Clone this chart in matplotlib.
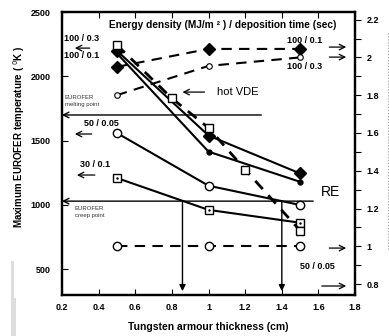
import matplotlib
matplotlib.use('Agg')
import matplotlib.pyplot as plt
from matplotlib.lines import Line2D
from matplotlib.patches import Rectangle
from matplotlib.ticker import FuncFormatter, MultipleLocator

plt.rcParams['font.family'] = ['Liberation Sans', 'DejaVu Sans']

# thickness of tungsten armour (cm)
thick = [0.5, 1.0, 1.5]
thick_vde = [0.5, 0.8, 1.0, 1.2, 1.5]

# maximum EUROFER temperature (K), left axis
t_100_01_diam = [2200, 1540, 1245]
t_100_03_dot = [2180, 1415, 1180]
t_50_005 = [1560, 1150, 1000]
t_30_01 = [1210, 962, 862]
t_hot_vde = [2245, 1830, 1600, 1275, 800]

# right axis series (dashed)
r_100_01 = [1.95, 2.045, 2.045]
r_100_03 = [1.80, 1.955, 2.0]
r_50_005 = [1.0, 1.0, 1.0]

melting_point = 1700
creep_point = 1030

fig = plt.figure(figsize=(3.89, 3.36), dpi=100)
ax = fig.add_axes([0.159, 0.122, 0.754, 0.842])
ax2 = ax.twinx()

lw = 1.5
ax.plot(thick, t_100_01_diam, '-', color='black', lw=lw, marker='D', ms=6, mfc='black', zorder=3)
ax.plot(thick, t_100_03_dot, '-', color='black', lw=lw, marker='o', ms=3.5, mfc='black', zorder=3)
ax.plot(thick, t_50_005, '-', color='black', lw=lw, marker='o', ms=6, mfc='white', mew=1.0, zorder=3)
ax.plot(thick, t_30_01, '-', color='black', lw=lw, marker='s', ms=6, mfc='white', mew=1.0, zorder=3)
ax.plot(thick, t_30_01, ' ', color='black', marker='.', ms=1.5, zorder=4)
ax.plot(thick_vde, t_hot_vde, '--', color='black', lw=2.0, dashes=(4, 3), marker='s', ms=6,
        mfc='white', mew=1.0, zorder=4)

ax2.plot(thick, r_100_01, '--', color='black', lw=lw, dashes=(5, 3.5), marker='D', ms=6.5, mfc='black', zorder=3)
ax2.plot(thick, r_100_03, '--', color='black', lw=lw, dashes=(5, 3.5), marker='o', ms=4, mfc='white', mew=0.8, zorder=3)
ax2.plot(thick, r_50_005, '--', color='black', lw=lw, dashes=(5, 3.5), marker='o', ms=6, mfc='white', mew=1.0, zorder=3)

ax.set_xlim(0.2, 1.8)
ax.set_ylim(300, 2500)
ax2.set_ylim(0.742, 2.24)

# reference lines
ax.annotate('', xy=(0.2, melting_point), xytext=(1.288, melting_point),
            arrowprops=dict(arrowstyle='->', color='black', lw=1.0, shrinkA=0, shrinkB=0))
ax.annotate('', xy=(0.2, creep_point), xytext=(1.571, creep_point),
            arrowprops=dict(arrowstyle='->', color='black', lw=1.0, shrinkA=0, shrinkB=0))
for xv in [0.858, 1.40]:
    ax.annotate('', xy=(xv, 330), xytext=(xv, creep_point),
                arrowprops=dict(arrowstyle='-|>', color='black', lw=1.0, shrinkA=0, shrinkB=0,
                                mutation_scale=9))

small_arrow = dict(arrowstyle='->', color='black', lw=0.9, shrinkA=0, shrinkB=0)
bold = dict(fontsize=6.5, fontweight='bold', ha='center', va='center')

ax.text(1.076, 2399, 'Energy density (MJ/m ² ) / deposition time (sec)', fontsize=7.3,
        fontweight='bold', ha='center', va='center')
ax.text(0.309, 2298, '100 / 0.3', **bold)
ax.annotate('', xy=(0.271, 2220), xytext=(0.352, 2220), arrowprops=small_arrow)
ax.text(0.309, 2166, '100 / 0.1', **bold)
ax.text(0.216, 1808, 'EUROFER\nmelting point', fontsize=4.3, color='#333333', ha='left', va='center',
        linespacing=1.3)
ax.text(0.418, 1637, '50 / 0.05', **bold)
ax.annotate('', xy=(0.271, 1552), xytext=(0.363, 1552), arrowprops=small_arrow)
ax.text(0.380, 1311, '30 / 0.1', **bold)
ax.annotate('', xy=(0.282, 1233), xytext=(0.38, 1233), arrowprops=small_arrow)
ax.text(0.271, 945, 'EUROFER\ncreep point', fontsize=4.3, color='#333333', ha='left', va='center',
        linespacing=1.3)
ax.text(1.615, 1100, 'RE', fontsize=10, ha='left', va='center')
ax.text(1.044, 1878, 'hot VDE', fontsize=8, ha='left', va='center')
ax.annotate('', xy=(0.858, 1878), xytext=(0.978, 1878), arrowprops=small_arrow)

ax.text(1.522, 2282, '100 / 0.1', **bold)
ax.annotate('', xy=(1.751, 2228), xytext=(1.659, 2228), arrowprops=small_arrow)
ax.annotate('', xy=(1.751, 2150), xytext=(1.659, 2150), arrowprops=small_arrow)
ax.text(1.522, 2080, '100 / 0.3', **bold)
ax.text(1.593, 525, '50 / 0.05', **bold)
ax.annotate('', xy=(1.751, 665), xytext=(1.659, 665), arrowprops=small_arrow)
ax.annotate('', xy=(1.751, 370), xytext=(1.618, 370), arrowprops=small_arrow)

# axes styling
for a in (ax, ax2):
    for s in a.spines.values():
        s.set_linewidth(1.6)

ax.xaxis.set_major_locator(MultipleLocator(0.2))
ax.xaxis.set_major_formatter(FuncFormatter(lambda v, p: '%g' % round(v, 2)))
ax.set_yticks([500, 1000, 1500, 2000, 2500])
ax.tick_params(axis='x', direction='in', top=True, length=4, width=0.8, labelsize=6.5, pad=6)
ax.tick_params(axis='y', direction='in', length=4, width=0.8, labelsize=6.5, pad=8)
for lab in ax.get_xticklabels() + ax.get_yticklabels():
    lab.set_fontweight('bold')

ax2.yaxis.set_major_locator(MultipleLocator(0.2))
ax2.yaxis.set_minor_locator(MultipleLocator(0.1))
ax2.yaxis.set_major_formatter(FuncFormatter(lambda v, p: '%g' % round(v, 2)))
ax2.tick_params(axis='y', which='both', direction='out', length=4, width=0.8, labelsize=6.5, pad=4)
for lab in ax2.get_yticklabels():
    lab.set_fontweight('bold')

ax.set_xlabel('Tungsten armour thickness (cm)', fontsize=7.5, fontweight='bold')
ax.xaxis.set_label_coords(0.5, -0.095)
ax.set_ylabel('Maximum EUROFER temperature ( $^{0}$K )', fontsize=7, fontweight='bold')
ax.yaxis.set_label_coords(-0.12, 0.56)

# faint scan artefacts at the edges
fig.add_artist(Rectangle((11 / 389, 0), 3 / 389, 75 / 336, transform=fig.transFigure,
                         color='#dddddd', lw=0))
fig.add_artist(Rectangle((11 / 389, 0), 5 / 389, 38 / 336, transform=fig.transFigure,
                         color='#dddddd', lw=0))
fig.add_artist(Line2D([388 / 389, 388 / 389], [1 - 33 / 336, 1 - 250 / 336], transform=fig.transFigure,
                      color='#999999', lw=0.8, ls=':'))

fig.savefig('out.png', dpi=100)
